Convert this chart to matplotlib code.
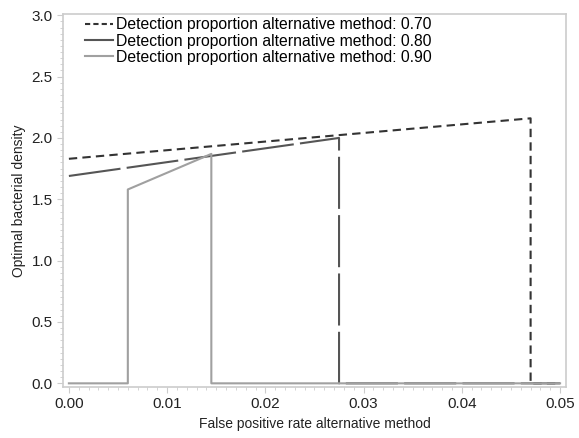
import matplotlib
matplotlib.use("Agg")
import matplotlib.pyplot as plt
from matplotlib.ticker import MultipleLocator
from matplotlib.lines import Line2D

plt.rcParams['font.family'] = ['Liberation Sans', 'DejaVu Sans']

# Data (x = false positive rate, y = optimal bacterial density)
x70 = [0.0, 0.047, 0.047, 0.050]
y70 = [1.83, 2.16, 0.0, 0.0]
x80 = [0.0, 0.0275, 0.0275, 0.050]
y80 = [1.69, 2.00, 0.0, 0.0]
x90 = [0.0, 0.006, 0.006, 0.0145, 0.0145, 0.050]
y90 = [0.0, 0.0, 1.58, 1.87, 0.0, 0.0]
labels = ["Detection proportion alternative method: 0.70",
          "Detection proportion alternative method: 0.80",
          "Detection proportion alternative method: 0.90"]
xticks = [0.00, 0.01, 0.02, 0.03, 0.04, 0.05]
yticks = [0.0, 0.5, 1.0, 1.5, 2.0, 2.5, 3.0]

fig = plt.figure(figsize=(5.79, 4.38), dpi=100)
ax = fig.add_axes([0.1088, 0.1164, 0.8687, 0.8516])

c70, c80, c90 = '#333333', '#555555', '#a0a0a0'
ax.plot(x70, y70, color=c70, lw=1.5, dashes=(4, 2.5), zorder=2)
ax.plot(x80, y80, color=c80, lw=1.5, dashes=(25, 3), zorder=3)
ax.plot(x90, y90, color=c90, lw=1.5, zorder=4)

handles = [Line2D([], [], color=c70, lw=1.5, dashes=(2.5, 1.5)),
           Line2D([], [], color=c80, lw=1.5),
           Line2D([], [], color=c90, lw=1.5)]
ax.legend(handles, labels, loc='upper left', frameon=False, fontsize=11.3,
          handlelength=1.75, handletextpad=0.2, labelspacing=0.08,
          borderaxespad=0.0, bbox_to_anchor=(0.032, 1.008))

ax.set_xlim(-0.0006, 0.0506)
ax.set_ylim(-0.03, 3.01)
ax.set_xticks(xticks)
ax.set_yticks(yticks)
ax.set_xticklabels([f"{t:.2f}" for t in xticks])
ax.set_yticklabels([f"{t:.1f}" for t in yticks])
ax.xaxis.set_minor_locator(MultipleLocator(0.001))
ax.yaxis.set_minor_locator(MultipleLocator(0.05))
ax.tick_params(which='major', length=4, color='#cccccc', labelsize=11, labelcolor='#222222')
ax.tick_params(which='minor', length=2, color='#cccccc')
for s in ax.spines.values():
    s.set_color('#cccccc')
    s.set_linewidth(1.2)

ax.set_xlabel("False positive rate alternative method", fontsize=10, color='#222222', labelpad=4)
ax.set_ylabel("Optimal bacterial density", fontsize=10, color='#222222', labelpad=4)

fig.savefig("out.png", dpi=100)
